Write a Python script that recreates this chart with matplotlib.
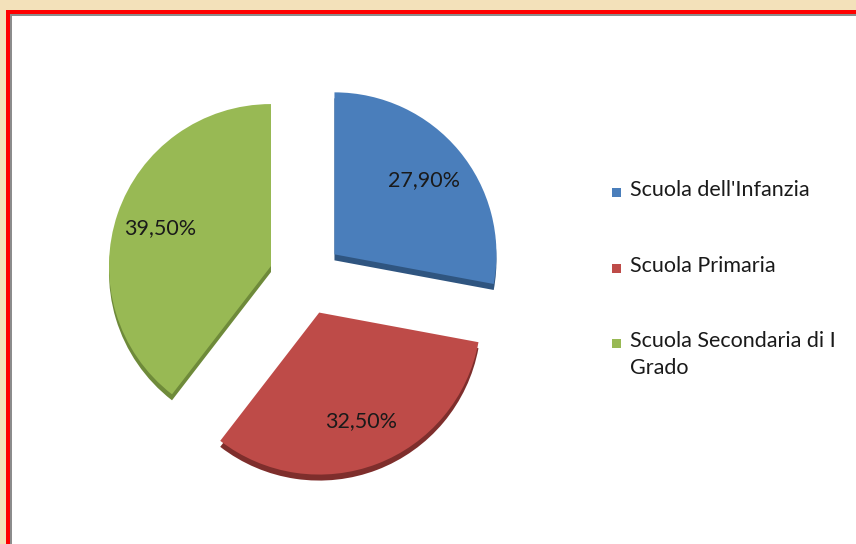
import matplotlib
matplotlib.use("Agg")
import matplotlib.pyplot as plt
from matplotlib.patches import Rectangle

# ---- data ----
categories = ["Scuola dell'Infanzia", "Scuola Primaria", "Scuola Secondaria di I Grado"]
values = [27.9, 32.5, 39.5]
legend_labels = ["Scuola dell'Infanzia", "Scuola Primaria", "Scuola Secondaria di I\nGrado"]

top_colors = ["#4A7EBB", "#BE4B48", "#98B954"]
side_colors = ["#2F5580", "#7E2E2C", "#6E8A3A"]

W, H = 856, 544
plt.rcParams['font.family'] = ['Lato', 'DejaVu Sans']

fig = plt.figure(figsize=(W / 100, H / 100), dpi=100)
fig.patch.set_facecolor("#F3E1BA")
ax = fig.add_axes([0, 0, 1, 1])

def Y(ypix):
    return H - ypix

# frame: red border, gray inner line, white panel
ax.add_patch(Rectangle((6, 0), W, Y(10), facecolor="#FF0000", edgecolor='none', zorder=0))
ax.add_patch(Rectangle((10, 0), W, Y(14), facecolor="#8C8C8C", edgecolor='none', zorder=0.1))
ax.add_patch(Rectangle((12, 0), W, Y(16), facecolor="white", edgecolor='none', zorder=0.2))

total = sum(values)
cx, cy = 306, Y(278)
R = 162
expl = [37, 37, 37]  # absolute offset in data units

# side (extrusion) layer
ax.pie(values, explode=expl, startangle=90, counterclock=False, colors=side_colors,
       center=(cx, cy - 6), radius=R, frame=True,
       wedgeprops=dict(linewidth=0, zorder=1))

def fmt(p):
    v = p * total / 100.0
    return f"{v:.2f}%".replace('.', ',')

wedges, texts, autotexts = ax.pie(values, explode=expl, startangle=90, counterclock=False,
                                  colors=top_colors, center=(cx, cy), radius=R, frame=True,
                                  autopct=fmt, pctdistance=0.72,
                                  wedgeprops=dict(linewidth=0, zorder=2),
                                  textprops=dict(fontsize=15.5, color="#1a1a1a"))
for t in autotexts:
    t.set_zorder(5)

ax.set_xlim(0, W)
ax.set_ylim(0, H)
ax.set_aspect('equal')
ax.axis('off')

# legend (manual, to match first-line alignment)
leg_y = [192, 268, 343]
for lab, col, yp in zip(legend_labels, top_colors, leg_y):
    ax.add_patch(Rectangle((612, Y(yp) - 4.5), 9, 9, facecolor=col, edgecolor='none', zorder=3))
    ax.text(630, Y(yp) + 12, lab, fontsize=15.5, color="#1a1a1a", va='top', ha='left',
            linespacing=1.45, zorder=3)

fig.savefig("out.png", dpi=100, facecolor=fig.get_facecolor())
